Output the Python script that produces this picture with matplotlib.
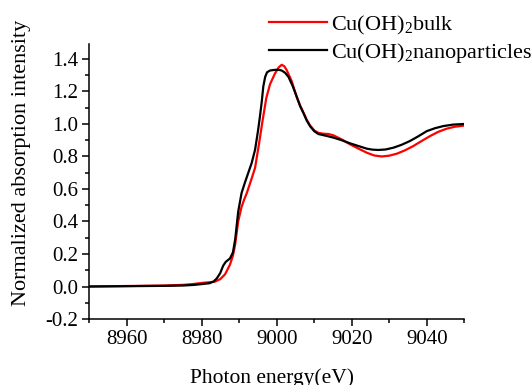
import matplotlib
matplotlib.use("Agg")
import matplotlib.pyplot as plt
from matplotlib.ticker import MultipleLocator

plt.rcParams.update({
    "font.family": ["Liberation Serif", "DejaVu Serif"],
    "mathtext.default": "regular",
    "font.size": 15,
    "axes.linewidth": 1.1,
    "xtick.direction": "out", "ytick.direction": "out",
})

# (eV, normalised absorption)
energy_bulk = [8950, 8960, 8970, 8975, 8978, 8980, 8982, 8983.5, 8984.9, 8986.2, 8987.5, 8988.3,
               8988.9, 8989.7, 8990.6, 8991.3, 8992, 8993.3, 8994.2, 8995.2, 8996.2, 8997.2,
               8998.2, 8999.5, 9000.5, 9001.3, 9002, 9002.6, 9004, 9005.3, 9006.2, 9007.1,
               9008, 9008.9, 9010, 9011.1, 9012.4, 9013.8, 9015.1, 9017.3, 9019.5, 9021.8,
               9024, 9026, 9028, 9030, 9032, 9034.2, 9036.4, 9038.6, 9040.9, 9043.1,
               9045.3, 9047.5, 9050]
absorb_bulk = [0.0, 0.003, 0.006, 0.01, 0.016, 0.022, 0.026, 0.03, 0.045, 0.075, 0.134, 0.19,
               0.26, 0.40, 0.49, 0.535, 0.575, 0.665, 0.73, 0.87, 1.02, 1.16,
               1.245, 1.31, 1.348, 1.364, 1.355, 1.333, 1.262, 1.165, 1.115, 1.07,
               1.025, 0.99, 0.96, 0.945, 0.94, 0.938, 0.93, 0.905, 0.875, 0.848,
               0.823, 0.806, 0.80, 0.805, 0.817, 0.838, 0.864, 0.895, 0.926, 0.952,
               0.971, 0.983, 0.99]

energy_nano = [8950, 8960, 8970, 8975, 8978, 8980, 8982, 8983.1, 8984, 8984.9, 8985.7, 8986.4,
               8987.5, 8988.3, 8988.9, 8989.7, 8990.6, 8991.5, 8992.4, 8993.3, 8994.2, 8995,
               8995.5, 8996, 8996.4, 8996.9, 8997.4, 8998.2, 8999.5, 9000.5, 9001.3, 9002.2,
               9003.1, 9004.2, 9005.3, 9006.2, 9007.1, 9008, 9008.9, 9010, 9011.1, 9013,
               9015.1, 9017.3, 9019.5, 9021.8, 9024, 9025.5, 9027.1, 9029, 9031.1, 9033.3,
               9035.5, 9037.8, 9040, 9042.2, 9044.4, 9047, 9050]
absorb_nano = [0.0, 0.002, 0.004, 0.006, 0.01, 0.015, 0.02, 0.03, 0.05, 0.082, 0.128, 0.152,
               0.172, 0.21, 0.29, 0.46, 0.575, 0.64, 0.70, 0.76, 0.841, 0.96,
               1.046, 1.14, 1.231, 1.29, 1.318, 1.329, 1.333, 1.333, 1.329, 1.315,
               1.29, 1.235, 1.169, 1.11, 1.067, 1.02, 0.985, 0.955, 0.938, 0.928,
               0.916, 0.9, 0.881, 0.864, 0.848, 0.842, 0.84, 0.843, 0.854, 0.872,
               0.895, 0.925, 0.956, 0.974, 0.987, 0.996, 1.0]

yticks = [-0.2, 0.0, 0.2, 0.4, 0.6, 0.8, 1.0, 1.2, 1.4]

fig = plt.figure(figsize=(5.31, 3.85), dpi=100)
ax = fig.add_axes([0.1682, 0.1714, 0.7062, 0.7135])

ax.plot(energy_bulk, absorb_bulk, color="#ff0000", lw=1.6, label=r"Cu(OH)$_2$bulk")
ax.plot(energy_nano, absorb_nano, color="black", lw=1.6, label=r"Cu(OH)$_2$nanoparticles")

ax.set_xlim(8950, 9050)
ax.set_ylim(-0.2, 1.49)
ax.xaxis.set_major_locator(MultipleLocator(20))
ax.xaxis.set_minor_locator(MultipleLocator(10))
ax.yaxis.set_minor_locator(MultipleLocator(0.1))
ax.set_yticks(yticks)
ax.set_yticklabels([f"{v:.1f}" for v in yticks])
ax.tick_params(which="major", length=5, width=1.1, labelsize=15, pad=3)
ax.tick_params(which="minor", length=2.8, width=1.1)
ax.spines["top"].set_visible(False)
ax.spines["right"].set_visible(False)

ax.set_xlabel("Photon energy(eV)", fontsize=15.5)
ax.xaxis.set_label_coords(0.487, -0.178)
ax.set_ylabel("Normalized absorption intensity", fontsize=16)
ax.yaxis.set_label_coords(-0.155, 0.57)

fig.legend(loc="upper left", bbox_to_anchor=(0.49, 0.988), frameon=False, fontsize=16,
           handlelength=2.6, handletextpad=0.2, labelspacing=0.2, borderaxespad=0)

fig.savefig("out.png", dpi=100)
